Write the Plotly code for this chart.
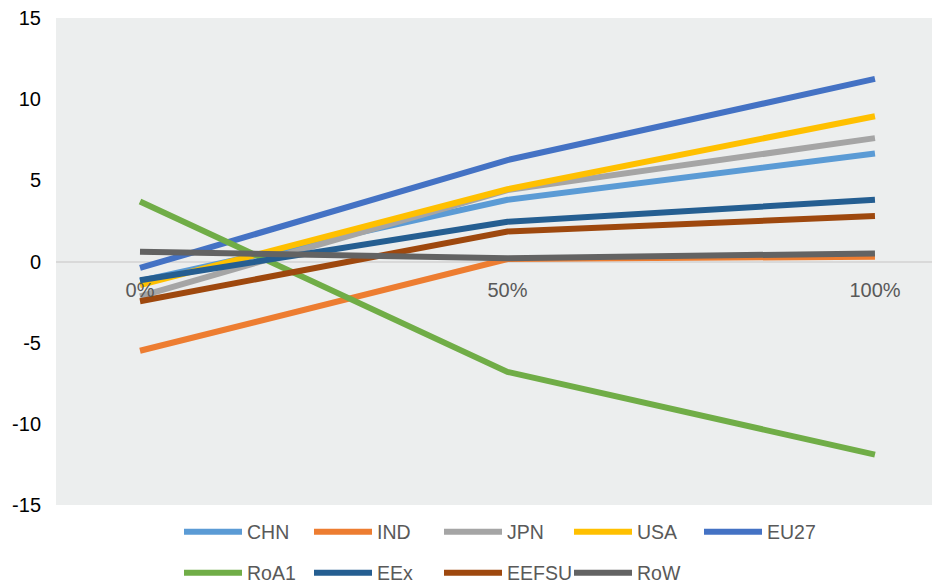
import plotly.graph_objects as go

categories = ["0%", "50%", "100%"]
series_names = ["CHN", "IND", "JPN", "USA", "EU27", "RoA1", "EEx", "EEFSU", "RoW"]
CHN = [-1.2, 3.8, 6.65]
IND = [-5.5, 0.15, 0.3]
JPN = [-2.15, 4.4, 7.6]
USA = [-1.45, 4.45, 8.95]
EU27 = [-0.4, 6.25, 11.25]
RoA1 = [3.7, -6.8, -11.9]
EEx = [-1.15, 2.45, 3.8]
EEFSU = [-2.45, 1.85, 2.8]
RoW = [0.6, 0.2, 0.5]
values = [CHN, IND, JPN, USA, EU27, RoA1, EEx, EEFSU, RoW]
colors = ["#5B9BD5", "#ED7D31", "#A5A5A5", "#FFC000", "#4472C4",
          "#70AD47", "#255E91", "#9E480E", "#636363"]
y_ticks = [-15, -10, -5, 0, 5, 10, 15]
y_ticktext = [str(v) for v in y_ticks]

# page has an 8px body margin; the figure is sized to fill the rest
W, H = 932, 575
ml, mt, mb, mr = 48, 10, 78, 0
ph = H - mt - mb
pw = W - ml - mr

def py(p):
    return (H - mb - p) / ph

def px(p):
    return (p - ml) / pw

# legend slots: 5 per row, rows at two heights
slot_x = [171, 301, 431, 561, 691]
row_y = [524, 565]

fig = go.Figure()
legends = {}
for i, (name, vals, col) in enumerate(zip(series_names, values, colors)):
    key = "legend" if i == 0 else f"legend{i + 1}"
    fig.add_trace(go.Scatter(
        x=categories, y=vals, name=name, mode="lines",
        line=dict(color=col, width=6),
        legend=key,
    ))
    legends[key] = dict(
        orientation="h", xanchor="left", yanchor="middle",
        x=px(slot_x[i % 5]), y=py(row_y[i // 5]),
        font=dict(family="Liberation Sans", size=19.5, color="#595959"),
        bgcolor="rgba(0,0,0,0)", itemwidth=58,
    )

fig.update_layout(
    width=W, height=H,
    margin=dict(l=ml, r=mr, t=mt, b=mb, autoexpand=False),
    paper_bgcolor="white", plot_bgcolor="#ECEEEE",
    font=dict(family="Liberation Sans", size=20, color="#000000"),
    showlegend=True,
    xaxis=dict(
        type="category", range=[-0.2286, 2.177],
        showgrid=False, showline=False, zeroline=False,
        anchor="free", position=0.5, ticks="", automargin=False,
        tickfont=dict(size=20, color="#595959"),
        ticklabelstandoff=14, ticklabeloverflow="allow",
    ),
    yaxis=dict(
        range=[-15, 15], tickvals=y_ticks, ticktext=y_ticktext, showgrid=False,
        zeroline=True, zerolinecolor="#D9D9D9", zerolinewidth=1.5,
        showline=False, ticks="", ticklabelstandoff=14, automargin=False,
        ticklabeloverflow="allow",
        tickfont=dict(size=20, color="#000000"),
    ),
    **legends,
)

fig.write_html("out.html")
